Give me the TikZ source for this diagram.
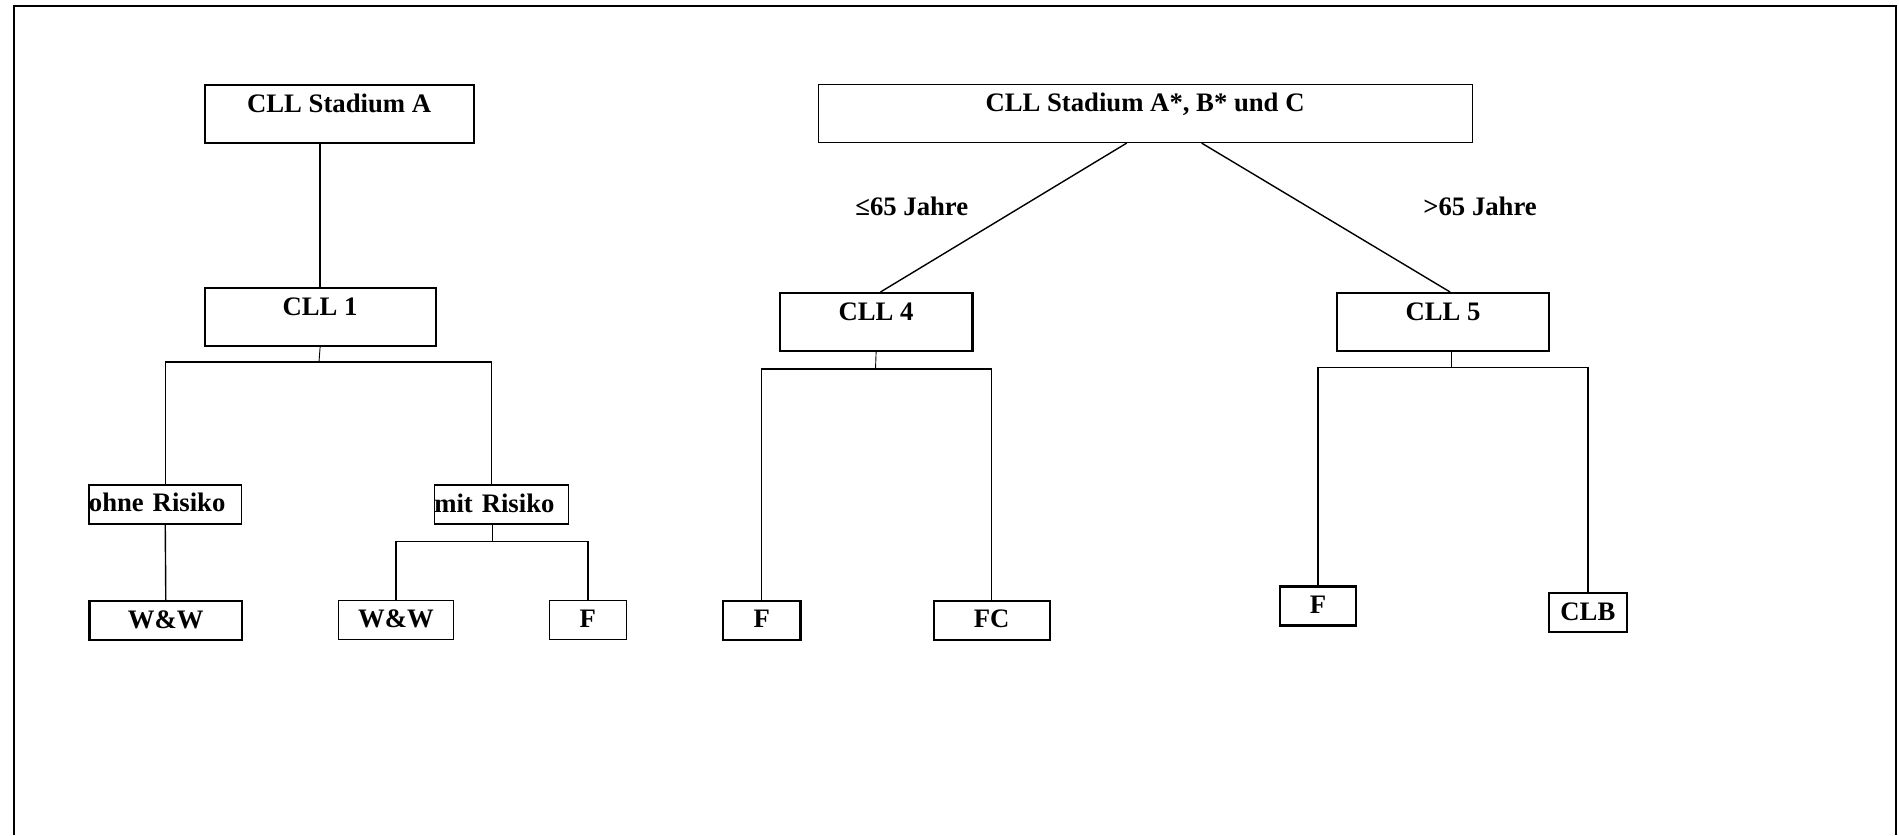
\documentclass[tikz,border=0pt]{standalone}
\usepackage{fontspec}
\setmainfont{Liberation Serif}
\begin{document}
\begin{tikzpicture}[x=0.5pt,y=-0.5pt,
  font=\fontsize{13.35}{16}\selectfont\bfseries,
  box/.style={draw, anchor=north west, inner xsep=0pt, inner ysep=0pt,
              text height=13.5pt, align=center},
  tall/.style={box, text depth=15.5pt},
  short/.style={box, text depth=6pt},
  heavy/.style={line width=1.1pt},
  light/.style={line width=0.55pt},
  medium/.style={line width=0.7pt},
  wire/.style={line width=0.7pt},
  fine/.style={line width=0.45pt},
  agegroup/.style={anchor=base west, inner sep=0pt}]

\useasboundingbox (0,0) rectangle (1899,835);

% page frame (open at the bottom)
\draw[line width=1.1pt] (14,835) -- (14,6) -- (1896,6) -- (1896,835);

% ---- Stadium A branch ----
\node[tall,heavy,minimum width=134.5pt] (stA) at (203.5,84) {CLL Stadium A};
\node[tall,heavy,minimum width=115.5pt] (cll1) at (203.5,287) {CLL 1};
\node[short,light,text width=76.3pt,align=left] (ohne) at (88.4,484.4) {ohne Risiko};
\node[short,medium,text width=67.2pt,align=left] (mit) at (433.6,484.4) {mit Risiko};
\node[short,heavy,minimum width=76.3pt] (ww1) at (88.4,600) {W\&W};
\node[short,light,minimum width=57.5pt] (ww2) at (338,600) {W\&W};
\node[short,light,minimum width=38.7pt] (f1) at (548.6,600) {F};

% ---- Stadium A*, B* and C branch ----
\node[tall,light,minimum width=327pt] (stB) at (817.5,84) {CLL Stadium A*, B* und C};
\node[tall,heavy,minimum width=96.3pt] (cll4) at (778.7,292) {CLL 4};
\node[tall,heavy,minimum width=106pt] (cll5) at (1336,292) {CLL 5};
\node[short,heavy,minimum width=38.75pt] (f2) at (721.8,599.5) {F};
\node[short,heavy,minimum width=58pt] (fc) at (932.5,599.5) {FC};
\node[short,heavy,minimum width=38pt] (f3) at (1279,585.3) {F};
\node[short,heavy,minimum width=38.75pt] (clb) at (1548,592) {CLB};

\node[agegroup] (young) at (855,215.5) {≤65 Jahre};
\node[agegroup] (old) at (1423,215.5) {>65 Jahre};

% branching points
\coordinate (b1) at (319,362);
\coordinate (b1r) at (491.7,362);
\coordinate (b2) at (492,541.4);
\coordinate (b3) at (875.5,369);
\coordinate (b4) at (1451,367.7);

% ---- connectors, left tree ----
\draw[wire] (stA.south -| cll1.north) -- (cll1.north);
\draw[fine] (cll1.south) -- (b1);
\draw[wire] (ohne.north) |- (b1r) -- (b1r |- mit.north);
\draw[wire] (ohne.south) -- (ww1.north);
\draw[fine] (b2 |- mit.south) -- (b2);
\draw[wire] (ww2.north) |- (b2) -| (f1.north);

% ---- connectors, right tree ----
\draw[wire] ([xshift=-9.2pt]stB.south) -- ([xshift=2.2pt]cll4.north);
\draw[wire] ([xshift=28.3pt]stB.south) -- ([xshift=3.5pt]cll5.north);
\draw[fine] (cll4.south) -- (b3);
\draw[wire] (f2.north) |- (b3) -| (fc.north);
\draw[fine] (b4 |- cll5.south) -- (b4);
\draw[wire] (f3.north) |- (b4) -| (clb.north);
\end{tikzpicture}
\end{document}
